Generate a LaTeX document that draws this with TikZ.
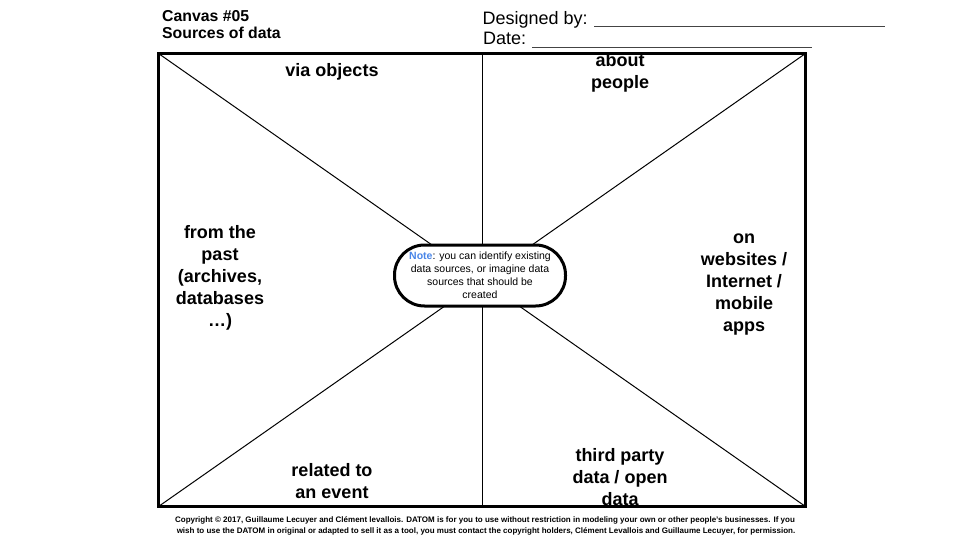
\documentclass[tikz,border=0pt]{standalone}
\usepackage{fontspec}
\setmainfont{Liberation Sans}
\definecolor{notecolor}{HTML}{4A86E8}
\definecolor{rulegray}{HTML}{444444}
\tikzset{
  frame/.style={line width=3pt, line join=miter},
  guide/.style={line width=1pt},
  label/.style={align=center, inner sep=0pt, font=\fontsize{18}{22}\selectfont\bfseries},
  header/.style={anchor=base west, inner sep=0pt, font=\fontsize{15.8}{17}\selectfont\bfseries},
  field/.style={anchor=base west, inner sep=0pt, font=\fontsize{18}{20}\selectfont},
  fieldline/.style={rulegray, line width=1pt},
  notebox/.style={draw, fill=white, line width=3pt, rounded corners=30pt,
    minimum width=171pt, minimum height=61pt, align=center, inner sep=2pt,
    font=\fontsize{10.5}{13}\selectfont},
  legal/.style={anchor=base, inner sep=0pt, font=\fontsize{8}{9}\selectfont\bfseries}
}
\begin{document}
\begin{tikzpicture}[x=1pt, y=-1pt]
  \useasboundingbox (0,0) rectangle (960,540);

  % canvas corners and centre line ends
  \coordinate (tl) at (158.5,53.5);
  \coordinate (tr) at (805.5,53.5);
  \coordinate (bl) at (158.5,506.5);
  \coordinate (br) at (805.5,506.5);
  \coordinate (tm) at (482,53.5);
  \coordinate (bm) at (482,506.5);

  % title block
  \node[header] (title) at (162,22) {Canvas \#05};
  \node[header] (subtitle) at (162,39) {Sources of data};
  \node[field] (designed) at (482.5,25) {Designed by:};
  \node[field] (date) at (483,45) {Date:};
  \coordinate (d1a) at (594,26.5);
  \coordinate (d1b) at (885,26.5);
  \coordinate (d2a) at (532,47.5);
  \coordinate (d2b) at (812,47.5);
  \draw[fieldline] (d1a) -- (d1b);
  \draw[fieldline] (d2a) -- (d2b);

  % diagonals and centre divider
  \draw[guide] (tl) -- (br);
  \draw[guide] (tr) -- (bl);
  \draw[guide] (tm) -- (bm);

  % section labels
  \node[label] (objects) at (332,71.5) {via objects};
  \node[label] (people) at (620,73) {about\\people};
  \node[label] (past) at (220,278) {from the\\past\\(archives,\\databases\\…)};
  \node[label] (web) at (744,285) {on\\websites /\\Internet /\\mobile\\apps};
  \node[label] (event) at (332,481.5) {related to\\an event};
  \node[label] (third) at (620,477) {third party\\data / open\\data};

  % outer frame
  \draw[frame] (tl) rectangle (br);

  % central note
  \node[notebox] (note) at (480,275.5)
    {\textcolor{notecolor}{\bfseries Note}: you can identify existing\\
     data sources, or imagine data\\sources that should be\\created};

  % copyright notice
  \node[legal] (legal1) at (485,522) {Copyright © 2017, Guillaume Lecuyer and Clément levallois. DATOM is for you to use without restriction in modeling your own or other people's businesses. If you};
  \node[legal] (legal2) at (486,533.5) {wish to use the DATOM in original or adapted to sell it as a tool, you must contact the copyright holders, Clément Levallois and Guillaume Lecuyer, for permission.};
\end{tikzpicture}
\end{document}
